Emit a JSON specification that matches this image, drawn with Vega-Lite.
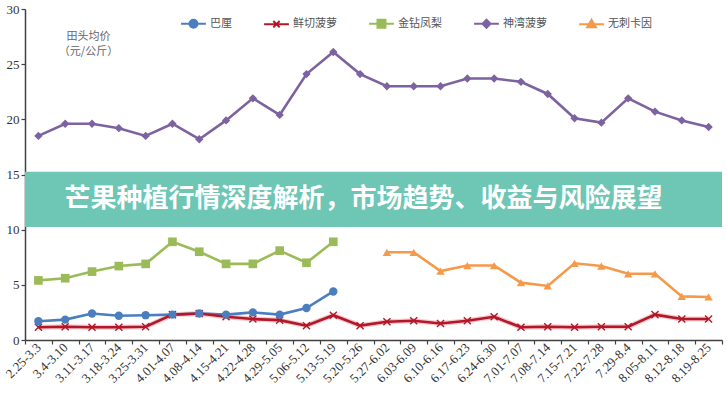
{
  "$schema": "https://vega.github.io/schema/vega-lite/v6.json",
  "width": 697,
  "height": 331,
  "autosize": {"type": "none"},
  "padding": {"left": 25, "top": 9, "right": 5, "bottom": 60},
  "background": "white",
  "config": {
    "view": {"stroke": null},
    "axis": {"domainColor": "#404040", "domainWidth": 1.5, "tickColor": "#404040", "tickWidth": 1.2, "labelFont": "Liberation Serif", "labelFontSize": 13, "labelColor": "#333333", "grid": false}
  },
  "datasets": {
    "prices": [
      {"w":"2.25-3.3","s":"巴厘","v":1.7},{"w":"3.4-3.10","s":"巴厘","v":1.85},{"w":"3.11-3.17","s":"巴厘","v":2.4},{"w":"3.18-3.24","s":"巴厘","v":2.2},{"w":"3.25-3.31","s":"巴厘","v":2.25},{"w":"4.01-4.07","s":"巴厘","v":2.3},{"w":"4.08-4.14","s":"巴厘","v":2.4},{"w":"4.15-4.21","s":"巴厘","v":2.3},{"w":"4.22-4.28","s":"巴厘","v":2.5},{"w":"4.29-5.05","s":"巴厘","v":2.3},{"w":"5.06-5.12","s":"巴厘","v":2.9},{"w":"5.13-5.19","s":"巴厘","v":4.4},
      {"w":"2.25-3.3","s":"鲜切菠萝","v":1.15},{"w":"3.4-3.10","s":"鲜切菠萝","v":1.2},{"w":"3.11-3.17","s":"鲜切菠萝","v":1.15},{"w":"3.18-3.24","s":"鲜切菠萝","v":1.15},{"w":"3.25-3.31","s":"鲜切菠萝","v":1.2},{"w":"4.01-4.07","s":"鲜切菠萝","v":2.3},{"w":"4.08-4.14","s":"鲜切菠萝","v":2.4},{"w":"4.15-4.21","s":"鲜切菠萝","v":2.1},{"w":"4.22-4.28","s":"鲜切菠萝","v":1.9},{"w":"4.29-5.05","s":"鲜切菠萝","v":1.8},{"w":"5.06-5.12","s":"鲜切菠萝","v":1.3},{"w":"5.13-5.19","s":"鲜切菠萝","v":2.25},{"w":"5.20-5.26","s":"鲜切菠萝","v":1.3},{"w":"5.27-6.02","s":"鲜切菠萝","v":1.65},{"w":"6.03-6.09","s":"鲜切菠萝","v":1.75},{"w":"6.10-6.16","s":"鲜切菠萝","v":1.5},{"w":"6.17-6.23","s":"鲜切菠萝","v":1.75},{"w":"6.24-6.30","s":"鲜切菠萝","v":2.1},{"w":"7.01-7.07","s":"鲜切菠萝","v":1.15},{"w":"7.08-7.14","s":"鲜切菠萝","v":1.2},{"w":"7.15-7.21","s":"鲜切菠萝","v":1.15},{"w":"7.22-7.28","s":"鲜切菠萝","v":1.2},{"w":"7.29-8.4","s":"鲜切菠萝","v":1.2},{"w":"8.05-8.11","s":"鲜切菠萝","v":2.3},{"w":"8.12-8.18","s":"鲜切菠萝","v":1.9},{"w":"8.19-8.25","s":"鲜切菠萝","v":1.9},
      {"w":"2.25-3.3","s":"金钻凤梨","v":5.4},{"w":"3.4-3.10","s":"金钻凤梨","v":5.6},{"w":"3.11-3.17","s":"金钻凤梨","v":6.2},{"w":"3.18-3.24","s":"金钻凤梨","v":6.7},{"w":"3.25-3.31","s":"金钻凤梨","v":6.9},{"w":"4.01-4.07","s":"金钻凤梨","v":8.9},{"w":"4.08-4.14","s":"金钻凤梨","v":8.0},{"w":"4.15-4.21","s":"金钻凤梨","v":6.9},{"w":"4.22-4.28","s":"金钻凤梨","v":6.9},{"w":"4.29-5.05","s":"金钻凤梨","v":8.1},{"w":"5.06-5.12","s":"金钻凤梨","v":7.0},{"w":"5.13-5.19","s":"金钻凤梨","v":8.9},
      {"w":"2.25-3.3","s":"神湾菠萝","v":18.5},{"w":"3.4-3.10","s":"神湾菠萝","v":19.6},{"w":"3.11-3.17","s":"神湾菠萝","v":19.6},{"w":"3.18-3.24","s":"神湾菠萝","v":19.2},{"w":"3.25-3.31","s":"神湾菠萝","v":18.5},{"w":"4.01-4.07","s":"神湾菠萝","v":19.6},{"w":"4.08-4.14","s":"神湾菠萝","v":18.2},{"w":"4.15-4.21","s":"神湾菠萝","v":19.9},{"w":"4.22-4.28","s":"神湾菠萝","v":21.9},{"w":"4.29-5.05","s":"神湾菠萝","v":20.4},{"w":"5.06-5.12","s":"神湾菠萝","v":24.1},{"w":"5.13-5.19","s":"神湾菠萝","v":26.1},{"w":"5.20-5.26","s":"神湾菠萝","v":24.1},{"w":"5.27-6.02","s":"神湾菠萝","v":23.0},{"w":"6.03-6.09","s":"神湾菠萝","v":23.0},{"w":"6.10-6.16","s":"神湾菠萝","v":23.0},{"w":"6.17-6.23","s":"神湾菠萝","v":23.7},{"w":"6.24-6.30","s":"神湾菠萝","v":23.7},{"w":"7.01-7.07","s":"神湾菠萝","v":23.4},{"w":"7.08-7.14","s":"神湾菠萝","v":22.3},{"w":"7.15-7.21","s":"神湾菠萝","v":20.1},{"w":"7.22-7.28","s":"神湾菠萝","v":19.7},{"w":"7.29-8.4","s":"神湾菠萝","v":21.9},{"w":"8.05-8.11","s":"神湾菠萝","v":20.7},{"w":"8.12-8.18","s":"神湾菠萝","v":19.9},{"w":"8.19-8.25","s":"神湾菠萝","v":19.3},
      {"w":"5.27-6.02","s":"无刺卡因","v":7.95},{"w":"6.03-6.09","s":"无刺卡因","v":7.95},{"w":"6.10-6.16","s":"无刺卡因","v":6.25},{"w":"6.17-6.23","s":"无刺卡因","v":6.75},{"w":"6.24-6.30","s":"无刺卡因","v":6.75},{"w":"7.01-7.07","s":"无刺卡因","v":5.2},{"w":"7.08-7.14","s":"无刺卡因","v":4.9},{"w":"7.15-7.21","s":"无刺卡因","v":6.95},{"w":"7.22-7.28","s":"无刺卡因","v":6.7},{"w":"7.29-8.4","s":"无刺卡因","v":6.0},{"w":"8.05-8.11","s":"无刺卡因","v":6.0},{"w":"8.12-8.18","s":"无刺卡因","v":3.95},{"w":"8.19-8.25","s":"无刺卡因","v":3.9}
    ],
    "banner": [{"t": "芒果种植行情深度解析，市场趋势、收益与风险展望"}]
  },
  "layer": [
    {
      "data": {"name": "prices"},
      "transform": [{"filter": "datum.s === '鲜切菠萝'"}],
      "mark": {"type": "line", "strokeWidth": 5, "color": "#e0606a", "opacity": 0.35},
      "encoding": {
        "x": {"field": "w", "type": "ordinal", "sort": null},
        "y": {"field": "v", "type": "quantitative"}
      }
    },
    {
      "data": {"name": "prices"},
      "mark": {"type": "line", "strokeWidth": 2.6},
      "encoding": {
        "x": {"field": "w", "type": "ordinal", "sort": null, "scale": {"type": "band", "paddingInner": 0, "paddingOuter": 0},
              "axis": {"title": null, "labelAngle": -45, "tickBand": "extent", "tickSize": 4, "labelPadding": 1}},
        "y": {"field": "v", "type": "quantitative", "scale": {"domain": [0, 30]},
              "axis": {"values": [0, 5, 10, 15, 20, 25, 30], "tickSize": 4, "labelPadding": 2,
                       "title": ["田头均价", "（元/公斤）"], "titleAngle": 0, "titleX": 63, "titleY": 21, "titleAlign": "center", "titleBaseline": "top",
                       "titleFont": "Noto Sans CJK SC", "titleFontSize": 11, "titleFontWeight": "normal", "titleColor": "#666666", "titleLineHeight": 15}},
        "color": {"field": "s", "type": "nominal",
                  "scale": {"domain": ["巴厘", "鲜切菠萝", "金钻凤梨", "神湾菠萝", "无刺卡因"], "range": ["#4a7ebf", "#b3172a", "#9bbb59", "#7d62a0", "#f5994b"]},
                  "legend": {"orient": "none", "legendX": 163, "legendY": 9, "direction": "horizontal", "title": null,
                             "labelFont": "Noto Sans CJK SC", "labelFontSize": 11, "labelColor": "#555555", "symbolSize": 64, "labelOffset": 11, "columnPadding": 28,
                             "symbolStrokeWidth": 2,
                             "encode": {"symbols": {"update": {
                               "shape": {"signal": "datum.value === '巴厘' ? 'M-3.1,0H3.1M-1,0A1,1 0 1,0 1,0A1,1 0 1,0 -1,0Z' : datum.value === '鲜切菠萝' ? 'M-3.1,0H3.1M-0.8,-0.8L0.8,0.8M-0.8,0.8L0.8,-0.8' : datum.value === '金钻凤梨' ? 'M-3.1,0H3.1M-1,-1H1V1H-1Z' : datum.value === '神湾菠萝' ? 'M-3.1,0H3.1M0,-1L1,0L0,1L-1,0Z' : 'M-3.1,0H3.1M0,-1.1L1.1,0.8H-1.1Z'"},
                               "fill": {"signal": "scale('color', datum.value)"},
                               "stroke": {"signal": "scale('color', datum.value)"},
                               "strokeWidth": {"value": 2},
                               "opacity": {"value": 1}
                             }}}}}
      }
    },
    {
      "data": {"name": "prices"},
      "transform": [{"filter": "datum.s === '鲜切菠萝'"}],
      "mark": {"type": "point", "filled": false, "size": 50, "strokeWidth": 1.4, "opacity": 1, "shape": "M-1,-1L1,1M-1,1L1,-1"},
      "encoding": {
        "x": {"field": "w", "type": "ordinal", "sort": null},
        "y": {"field": "v", "type": "quantitative"},
        "color": {"field": "s", "type": "nominal"}
      }
    },
    {
      "data": {"name": "prices"},
      "transform": [{"filter": "datum.s === '巴厘'"}],
      "mark": {"type": "point", "filled": true, "size": 70, "opacity": 1, "shape": "circle"},
      "encoding": {
        "x": {"field": "w", "type": "ordinal", "sort": null},
        "y": {"field": "v", "type": "quantitative"},
        "color": {"field": "s", "type": "nominal"}
      }
    },
    {
      "data": {"name": "prices"},
      "transform": [{"filter": "datum.s === '金钻凤梨'"}],
      "mark": {"type": "point", "filled": true, "size": 75, "opacity": 1, "shape": "square"},
      "encoding": {
        "x": {"field": "w", "type": "ordinal", "sort": null},
        "y": {"field": "v", "type": "quantitative"},
        "color": {"field": "s", "type": "nominal"}
      }
    },
    {
      "data": {"name": "prices"},
      "transform": [{"filter": "datum.s === '神湾菠萝'"}],
      "mark": {"type": "point", "filled": true, "size": 70, "opacity": 1, "shape": "diamond"},
      "encoding": {
        "x": {"field": "w", "type": "ordinal", "sort": null},
        "y": {"field": "v", "type": "quantitative"},
        "color": {"field": "s", "type": "nominal"}
      }
    },
    {
      "data": {"name": "prices"},
      "transform": [{"filter": "datum.s === '无刺卡因'"}],
      "mark": {"type": "point", "filled": true, "size": 70, "opacity": 1, "shape": "triangle-up"},
      "encoding": {
        "x": {"field": "w", "type": "ordinal", "sort": null},
        "y": {"field": "v", "type": "quantitative"},
        "color": {"field": "s", "type": "nominal"}
      }
    },
    {
      "data": {"name": "banner"},
      "mark": {"type": "rect", "color": "#6ec6b5"},
      "encoding": {
        "y": {"datum": 15.25, "type": "quantitative"},
        "y2": {"datum": 10.25}
      }
    },
    {
      "data": {"name": "banner"},
      "mark": {"type": "text", "font": "Noto Sans CJK SC", "fontSize": 26, "fontWeight": "bold", "color": "white", "dx": -10, "baseline": "middle", "align": "center"},
      "encoding": {
        "y": {"datum": 12.75, "type": "quantitative"},
        "text": {"field": "t"}
      }
    }
  ]
}
